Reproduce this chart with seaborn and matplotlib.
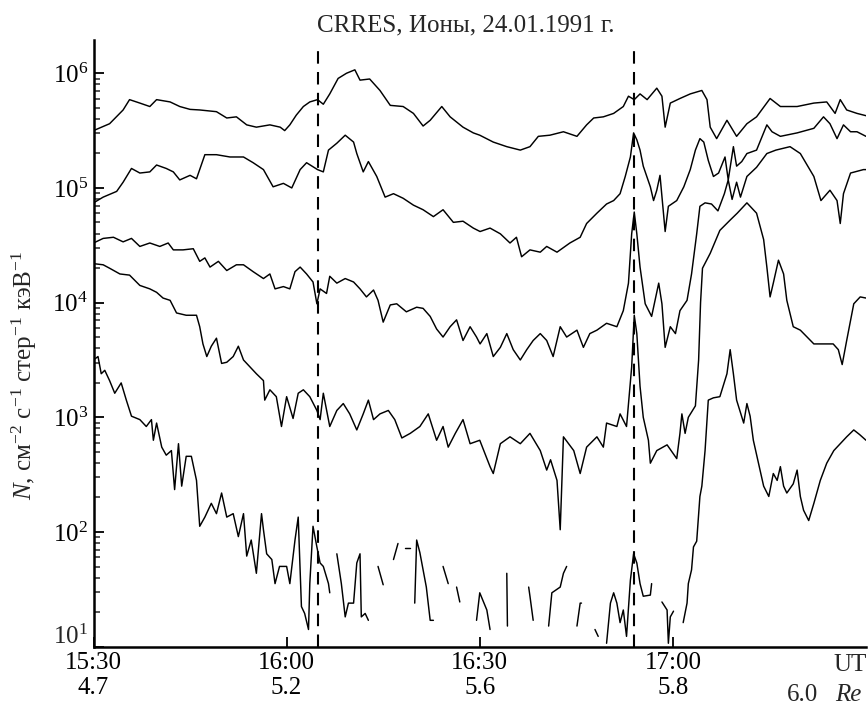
import numpy as np
import pandas as pd
import matplotlib
matplotlib.use("Agg")
import matplotlib.pyplot as plt
import seaborn as sns

# Time in minutes after 15:30 UT, flux as log10 N (N in cm^-2 s^-1 sr^-1 keV^-1)
t_ch1 = [0, 2.5, 4.6, 5.6, 7.2, 8.75, 9.8, 11.9, 13.4, 15.0, 16.5, 19.1, 20.7, 22.2, 23.8,
         25.3, 27.4, 29.0, 29.7, 30.5, 31.5, 32.6, 33.6, 34.8, 35.7, 36.7, 38.0, 39.3, 40.6,
         41.4, 42.9, 44.5, 46.1, 48.1, 49.7, 51.2, 52.3, 54.1, 55.4, 57.4, 59.0, 60.0, 62.1,
         64.2, 66.3, 67.8, 69.1, 70.9, 73.0, 75.1, 76.6, 77.7, 79.2, 80.8, 82.3, 83.1, 84.0,
         84.9, 86.0, 87.5, 88.3, 88.8, 89.6, 91.1, 92.7, 94.5, 95.3, 95.8, 96.8, 98.4, 99.9,
         101.5, 103.0, 105.1, 106.7, 109.3, 111.9, 113.9, 115.2, 116.0, 117.0, 118.6, 120.0]
lg_ch1 = [5.50, 5.56, 5.68, 5.77, 5.74, 5.71, 5.77, 5.75, 5.71, 5.685, 5.68, 5.665, 5.61, 5.62, 5.55,
          5.53, 5.55, 5.53, 5.50, 5.55, 5.635, 5.71, 5.75, 5.77, 5.73, 5.82, 5.955, 6.00, 6.03,
          5.94, 5.95, 5.85, 5.72, 5.71, 5.65, 5.54, 5.59, 5.71, 5.62, 5.53, 5.48, 5.46, 5.40,
          5.36, 5.33, 5.36, 5.45, 5.46, 5.49, 5.45, 5.55, 5.61, 5.62, 5.65, 5.71, 5.80, 5.77,
          5.82, 5.77, 5.87, 5.80, 5.53, 5.74, 5.78, 5.82, 5.85, 5.77, 5.53, 5.43, 5.59, 5.45,
          5.56, 5.62, 5.78, 5.71, 5.71, 5.74, 5.75, 5.65, 5.77, 5.68, 5.65, 5.63]

t_ch2 = [0, 1.5, 3.6, 4.6, 5.9, 7.2, 8.75, 9.8, 11.3, 12.4, 13.4, 15.0, 16.0, 17.3, 19.1, 21.2,
         23.3, 24.8, 26.4, 27.9, 29.5, 30.8, 32.1, 33.1, 34.8, 35.7, 36.5, 37.8, 39.1, 40.4,
         40.9, 41.9, 42.7, 44.0, 45.3, 46.6, 48.1, 49.7, 51.2, 52.8, 54.3, 55.9, 57.4, 59.0,
         60.05, 61.6, 63.2, 64.7, 65.7, 66.5, 67.8, 69.4, 70.4, 72.0, 74.0, 75.6, 76.6, 78.2,
         79.7, 80.8, 81.8, 82.6, 83.4, 83.9, 84.4, 84.9, 85.4, 86.5, 87.0, 87.5, 88.0, 88.8,
         89.3, 90.6, 91.7, 92.7, 93.5, 94.2, 94.8, 95.5, 96.3, 97.1, 98.1, 98.6, 99.4, 99.9,
         100.7, 101.5, 103.0, 104.6, 105.4, 106.7, 109.3, 111.9, 113.4, 114.4, 115.5, 116.5,
         117.6, 118.6, 120.0]
lg_ch2 = [4.87, 4.92, 4.97, 5.05, 5.17, 5.13, 5.14, 5.20, 5.17, 5.14, 5.07, 5.11, 5.08, 5.29, 5.29, 5.27,
          5.27, 5.22, 5.16, 5.01, 5.04, 5.00, 5.16, 5.22, 5.16, 5.14, 5.33, 5.39, 5.46, 5.40,
          5.30, 5.14, 5.23, 5.10, 4.92, 4.95, 4.91, 4.85, 4.81, 4.75, 4.81, 4.70, 4.71, 4.65,
          4.62, 4.65, 4.60, 4.52, 4.57, 4.40, 4.46, 4.44, 4.49, 4.44, 4.52, 4.57, 4.69, 4.78,
          4.86, 4.89, 4.95, 5.10, 5.27, 5.48, 5.42, 5.33, 5.19, 5.01, 4.89, 4.98, 5.11, 4.62,
          4.84, 4.89, 5.01, 5.16, 5.33, 5.43, 5.40, 5.24, 5.10, 5.13, 5.27, 5.07, 5.36, 5.19,
          5.23, 5.30, 5.33, 5.55, 5.49, 5.45, 5.48, 5.52, 5.62, 5.56, 5.43, 5.55,
          5.49, 5.49, 5.45]

t_ch3 = [0, 1.5, 3.1, 4.6, 5.9, 7.2, 8.75, 10.3, 11.6, 12.4, 13.9, 15.5, 16.5, 17.3, 18.1, 19.4,
         20.7, 22.2, 23.3, 24.8, 26.4, 27.4, 28.2, 29.5, 30.5, 31.3, 32.1, 33.1, 34.1, 34.7,
         35.2, 36.2, 36.7, 37.8, 39.1, 40.4, 41.4, 42.4, 43.5, 44.2, 45.0, 46.1, 47.1, 48.6,
         50.2, 51.2, 52.3, 53.3, 54.3, 55.4, 56.4, 57.4, 58.5, 59.5, 60.05, 61.1, 62.1, 63.2,
         64.2, 65.2, 66.3, 67.3, 68.3, 69.4, 70.4, 71.4, 72.5, 73.5, 75.1, 76.1, 77.1, 78.2,
         79.7, 81.3, 82.3, 83.1, 83.6, 84.0, 84.4, 84.9, 85.7, 86.7, 87.8, 88.3, 88.8, 89.6,
         90.4, 91.1, 92.2, 92.9, 93.7, 94.2, 95.0, 96.0, 97.0, 98.0, 98.6, 99.2, 99.9, 100.5,
         101.5, 103.0, 104.6, 106.0, 108.2, 109.8, 111.9, 113.0, 114.4, 115.5, 116.0, 116.5,
         117.6, 119.6, 120.0]
lg_ch3 = [4.52, 4.56, 4.57, 4.53, 4.56, 4.49, 4.52, 4.49, 4.52, 4.46, 4.46, 4.47, 4.36, 4.39, 4.31, 4.36,
          4.28, 4.33, 4.33, 4.27, 4.21, 4.25, 4.12, 4.14, 4.12, 4.27, 4.31, 4.25, 4.18, 3.99,
          4.12, 4.08, 4.23, 4.17, 4.21, 4.18, 4.12, 4.05, 4.11, 4.02, 3.83, 3.98, 3.99, 3.92,
          3.96, 3.95, 3.88, 3.77, 3.70, 3.79, 3.85, 3.67, 3.79, 3.70, 3.64, 3.73, 3.53, 3.61,
          3.73, 3.59, 3.50, 3.59, 3.67, 3.73, 3.67, 3.53, 3.79, 3.70, 3.76, 3.61, 3.73, 3.76,
          3.82, 3.79, 3.93, 4.17, 4.60, 4.79, 4.60, 4.31, 3.99, 3.88, 4.17, 3.99, 3.61, 3.79,
          3.73, 3.93, 4.02, 4.25, 4.60, 4.84, 4.87, 4.86, 4.80, 4.95, 5.07, 4.90, 5.05, 4.92,
          5.10, 5.18, 5.30, 5.33, 5.36, 5.30, 5.10, 4.89, 4.98, 4.89, 4.69, 4.95,
          5.13, 5.16, 5.16]

t_ch4 = [0, 1.5, 2.5, 4.1, 5.6, 7.2, 8.75, 9.8, 10.8, 11.9, 12.9, 14.4, 16.0, 16.5, 17.0, 17.6,
         18.3, 19.1, 19.9, 20.7, 21.7, 22.5, 23.3, 24.3, 25.3, 26.4, 26.6, 27.4, 28.4, 29.2,
         30.0, 31.0, 31.8, 32.6, 33.6, 34.7, 35.2, 35.7, 36.7, 37.8, 38.8, 39.8, 40.9, 41.9,
         42.7, 43.5, 44.5, 45.8, 46.8, 47.9, 49.2, 50.7, 52.0, 53.3, 54.3, 55.1, 56.2, 57.4,
         58.5, 60.0, 61.6, 62.1, 63.2, 64.7, 66.3, 67.8, 69.4, 70.4, 71.0, 72.0, 72.5, 73.0,
         74.6, 75.6, 76.6, 78.2, 79.2, 79.7, 81.3, 81.8, 82.8, 83.6, 84.0, 84.4, 84.9, 85.4,
         86.2, 86.5, 87.5, 89.1, 90.6, 91.1, 91.4, 91.9, 92.4, 93.5, 94.0, 94.3, 94.6, 95.8,
         97.3, 98.9, 100.0, 101.5, 103.0, 104.1, 104.6, 105.1, 105.6, 106.4, 107.2, 107.7,
         108.7, 109.8, 111.9, 113.0, 114.9, 115.7, 116.3, 117.0, 118.1, 119.1, 120.0]
lg_ch4 = [4.34, 4.33, 4.30, 4.25, 4.24, 4.15, 4.12, 4.09, 4.04, 4.02, 3.91, 3.89, 3.89, 3.79, 3.64, 3.53,
          3.62, 3.69, 3.47, 3.48, 3.53, 3.62, 3.50, 3.44, 3.38, 3.32, 3.15, 3.24, 3.18, 2.92,
          3.18, 2.99, 3.21, 3.24, 3.18, 3.06, 2.98, 3.21, 2.92, 3.06, 3.12, 3.03, 2.89, 3.03,
          3.15, 2.98, 3.03, 3.06, 2.98, 2.82, 2.86, 2.92, 3.03, 2.80, 2.92, 2.74, 2.86, 2.98,
          2.77, 2.80, 2.57, 2.51, 2.77, 2.83, 2.77, 2.86, 2.71, 2.54, 2.63, 2.45, 2.02, 2.83,
          2.71, 2.51, 2.74, 2.83, 2.74, 2.95, 2.92, 3.03, 2.92, 3.44, 3.89, 3.73, 3.27, 3.00,
          2.80, 2.60, 2.71, 2.76, 2.64, 2.86, 3.03, 2.86, 3.00, 3.10, 3.50, 4.00, 4.30, 4.43,
          4.63, 4.72, 4.78, 4.87, 4.78, 4.55, 4.31, 4.05, 4.17, 4.37, 4.25, 4.02,
          3.79, 3.76, 3.64, 3.64, 3.64, 3.59, 3.46, 3.67, 3.99, 4.05, 4.04]

# lowest channel: NaN marks data dropouts
nan = np.nan
t_ch5 = [0, 0.7, 1.2, 1.75, 2.5, 3.3, 4.3, 5.1, 5.9, 7.2, 8.2, 9.0, 9.3, 9.8, 10.6, 11.3, 12.1,
         12.6, 13.2, 13.7, 14.4, 15.2, 16.0, 16.5, 17.3, 18.3, 19.1, 19.9, 20.7, 21.7, 22.5,
         23.3, 23.8, 24.5, 25.3, 26.1, 26.4, 26.9, 27.7, 28.2, 28.9, 30.0, 30.5, 31.3, 31.8,
         32.3, 32.8, 33.4, 33.6, 34.1, 34.7, 35.2, 35.7, 36.5, 36.7, nan,
         37.8, 38.5, 39.1, 39.6, 40.4, 40.9, 41.4, 41.6, 42.2, 42.7, nan,
         44.2, 44.6, 45.0, nan, 46.6, 47.3, nan, 48.4, 49.2, nan,
         49.9, 50.2, 50.7, 51.2, 51.7, 52.3, 52.8, nan, 54.3, 55.1, nan, 56.4, 56.9, nan,
         59.5, 60.0, 61.1, 61.6, nan, 64.2, 64.3, nan, 67.6, 67.8, 68.3, nan,
         70.7, 71.2, 72.5, 73.0, 73.5, nan, 75.1, 75.6, 75.8, nan, 77.9, 78.4, nan,
         79.7, 80.3, 80.8, 81.3, 81.8, 82.3, 82.8, 83.4, 83.9, 84.4, 84.9, 85.4, 86.5, 86.7, nan,
         88.3, 89.1, 89.3, 89.6, 90.1, nan,
         91.6, 92.2, 92.4, 92.9, 93.2, 93.7, 94.2, 94.5, 95.0, 95.5, 96.3, 97.3, 98.4, 98.9,
         99.4, 99.9, 101.0, 101.5, 102.0, 102.5, 103.3, 104.1, 104.9, 105.6, 106.2, 106.7,
         107.2, 107.7, 108.7, 109.3, 109.8, 110.3, 111.1, 111.9, 112.9, 113.9, 115.0, 116.0,
         117.0, 118.1, 119.0, 120.0]
lg_ch5 = [3.50, 3.53, 3.38, 3.41, 3.32, 3.21, 3.30, 3.15, 3.01, 2.98, 2.92, 2.98, 2.80, 2.95, 2.74, 2.67, 2.71,
          2.37, 2.77, 2.40, 2.66, 2.66, 2.45, 2.05, 2.13, 2.25, 2.16, 2.34, 2.13, 2.16, 1.96,
          2.16, 1.79, 1.93, 1.64, 2.16, 2.02, 1.81, 1.76, 1.55, 1.70, 1.70, 1.55, 1.93, 2.13,
          1.35, 1.29, 1.15, 1.55, 2.05, 1.87, 1.73, 1.70, 1.55, 1.47, nan,
          1.81, 1.55, 1.26, 1.38, 1.38, 1.73, 1.81, 1.26, 1.29, 1.23, nan,
          1.70, 1.62, 1.54, nan, 1.76, 1.90, nan, 1.86, 1.86, nan,
          1.38, 1.93, 1.82, 1.67, 1.52, 1.23, 1.23, nan, 1.70, 1.55, nan, 1.52, 1.39, nan,
          1.23, 1.47, 1.32, 1.15, nan, 1.64, 1.18, nan, 1.52, 1.44, 1.23, nan,
          1.18, 1.47, 1.52, 1.64, 1.70, nan, 1.18, 1.38, 1.38, nan, 1.15, 1.09, nan,
          1.03, 1.38, 1.47, 1.38, 1.21, 1.32, 1.09, 1.58, 1.81, 1.73, 1.55, 1.44, 1.45, 1.55, nan,
          1.39, 1.32, 1.03, 1.26, 1.31, nan,
          1.21, 1.38, 1.55, 1.67, 1.87, 1.92, 2.31, 2.40, 2.71, 3.15, 3.17, 3.18, 3.38, 3.59,
          3.38, 3.15, 2.95, 3.12, 3.01, 2.80, 2.60, 2.40, 2.31, 2.51, 2.45, 2.57,
          2.40, 2.34, 2.42, 2.54, 2.31, 2.19, 2.10, 2.25, 2.45, 2.60, 2.71, 2.77,
          2.83, 2.89, 2.85, 2.80]

# tick labels: UT time and radial distance (Re)
tick_minutes = [0, 30, 60, 90]
ut_labels = ["15:30", "16:00", "16:30", "17:00"]
re_labels = ["4.7", "5.2", "5.6", "5.8"]
decades = [1, 2, 3, 4, 5, 6]
event_minutes = [34.8, 84.0]

# long table, one unit per continuous piece of each channel
rows = []
unit = 0
for ch, (tt, ll) in enumerate([(t_ch1, lg_ch1), (t_ch2, lg_ch2), (t_ch3, lg_ch3),
                               (t_ch4, lg_ch4), (t_ch5, lg_ch5)]):
    unit += 1
    for a, b in zip(tt, ll):
        if np.isnan(b):
            unit += 1
            continue
        rows.append({"t": a, "N": 10.0 ** b, "unit": unit})
df = pd.DataFrame(rows)

sns.set_style("ticks")
plt.rcParams["font.family"] = ["Liberation Serif", "DejaVu Serif"]
plt.rcParams["mathtext.fontset"] = "custom"
plt.rcParams["mathtext.rm"] = "Liberation Serif"
plt.rcParams["mathtext.it"] = "Liberation Serif:italic"

fig = plt.figure(figsize=(8.68, 7.11), dpi=100)
ax = fig.add_axes([93.5 / 868, 1 - 646.7 / 711, (866 - 93.5) / 868, (646.7 - 40) / 711])

sns.lineplot(data=df, x="t", y="N", units="unit", estimator=None, sort=False,
             color="black", linewidth=1.05, ax=ax, legend=False)

for tm in event_minutes:
    ax.axvline(tm, ymin=0, ymax=0.995, color="black", linewidth=1.5, dashes=(6, 4))

ax.set_yscale("log")
ax.set_xlim(0, 120)
ax.set_ylim(10, 10 ** 6.29)
ax.set_xlabel("")
ax.set_ylabel("")

ax.set_xticks(tick_minutes)
ax.set_xticklabels([f"{u}\n{r}" for u, r in zip(ut_labels, re_labels)], fontsize=18,
                   linespacing=1.15)
ax.set_yticks([10.0 ** k for k in decades])
# lowest decade label sits a little above its tick, clear of the time labels
ax.set_yticklabels([rf"$10^{{{k}}}$" if k > 1 else "" for k in decades], fontsize=18)
ax.annotate(r"$10^{1}$", xy=(0, 10), xycoords=("axes fraction", "data"),
            xytext=(-4, 7), textcoords="offset points", ha="right", va="center",
            fontsize=18)
ax.tick_params(axis="both", which="major", direction="in", length=7, width=1.3, pad=4,
               colors="black")
ax.tick_params(axis="y", which="minor", direction="in", length=4.5, width=1.1)
ax.tick_params(axis="x", which="minor", bottom=False)

for side in ["top", "right"]:
    ax.spines[side].set_visible(False)
for side in ["left", "bottom"]:
    ax.spines[side].set_linewidth(1.8)
    ax.spines[side].set_color("black")

fig.text(850 / 868, 1 - 665 / 711, "UT", fontsize=18, ha="center", va="center")
fig.text(803 / 868, 1 - 695 / 711, "6.0", fontsize=18, ha="center", va="center")
fig.text(848 / 868, 1 - 695 / 711, "Re", fontsize=18, ha="center", va="center",
         style="italic")

fig.text(466 / 868, 1 - 31 / 711, "CRRES, Ионы, 24.01.1991 г.", fontsize=18,
         ha="center", va="baseline")
fig.text(24 / 868, 1 - 375 / 711,
         r"$N$, см$^{-2}$ с$^{-1}$ стер$^{-1}$ кэВ$^{-1}$",
         fontsize=18, rotation=90, ha="center", va="center")

fig.savefig("out.png", dpi=100)
